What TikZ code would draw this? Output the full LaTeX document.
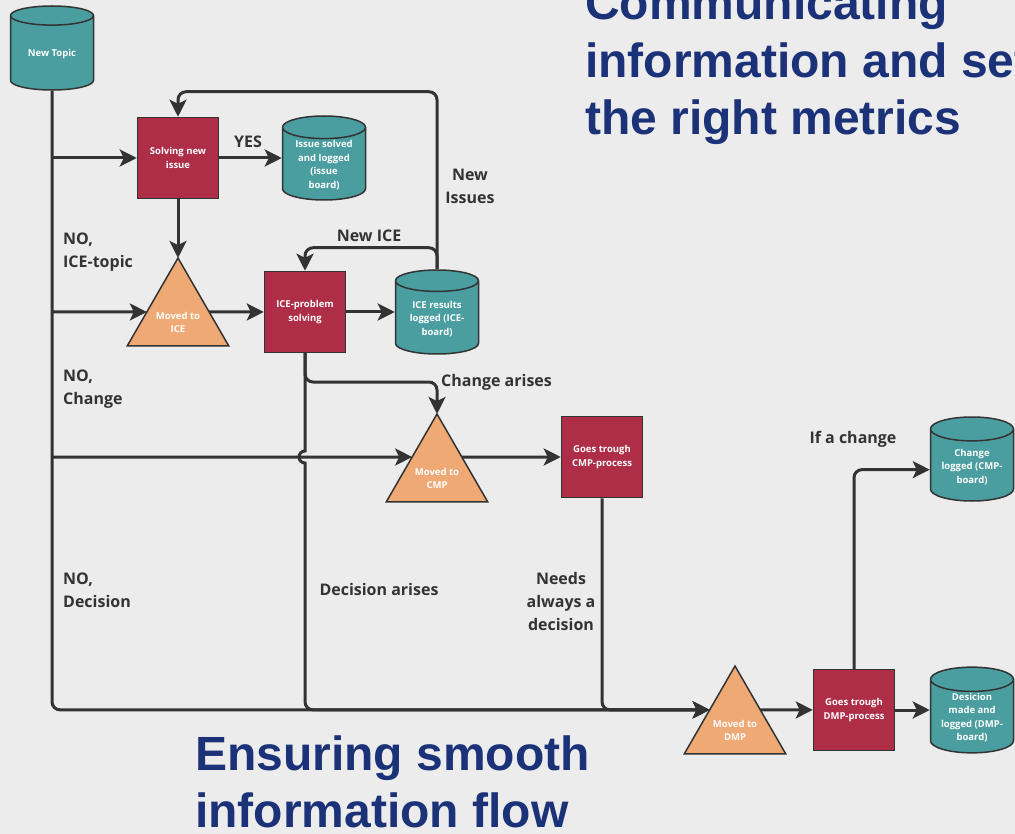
\documentclass[tikz,border=0pt]{standalone}
\usepackage{fontspec}
\setmainfont{Open Sans}
\newfontfamily\titlefont{Liberation Sans}
\usetikzlibrary{arrows.meta,calc,shapes.geometric}
\definecolor{bgc}{HTML}{ECECEC}
\definecolor{teal1}{HTML}{4A9EA0}
\definecolor{red1}{HTML}{AE2E48}
\definecolor{org1}{HTML}{EFA974}
\definecolor{ink}{HTML}{333333}
\definecolor{navy}{HTML}{1C3278}
\tikzset{
  box/.style={draw=ink,line width=1.5pt,fill=red1,minimum size=81pt,inner sep=2pt,text=white,align=center,font=\fontsize{9.5}{13.5}\selectfont\bfseries},
  cyl/.style={cylinder,shape border rotate=90,aspect=0.38,draw=ink,line width=1.5pt,fill=teal1,minimum width=83pt,minimum height=84pt,inner sep=1pt,anchor=shape center,text=white,align=center,font=\fontsize{9.5}{13.5}\selectfont\bfseries},
  tritxt/.style={text=white,align=center,inner sep=0pt,yshift=-6pt,font=\fontsize{9.5}{13.5}\selectfont\bfseries},
  tri/.style={regular polygon,regular polygon sides=3,draw=ink,line width=1.5pt,fill=org1,minimum size=117pt,inner sep=0pt,outer sep=0pt,anchor=north,label={[tritxt]center:{#1}}},
  arr/.style={-{Stealth[length=17pt,width=17pt,inset=4pt]},line width=3pt,draw=ink,rounded corners=8pt},
  lbl/.style={text=ink,align=left,inner sep=0pt,font=\fontsize{16}{23}\selectfont\bfseries},
  ttl/.style={text=navy,align=left,inner sep=0pt,anchor=west,font=\titlefont\fontsize{48}{57.5}\selectfont\bfseries},
}

\begin{document}
\begin{tikzpicture}[x=1pt,y=-1pt]
 \fill[bgc] (0,0) rectangle (1015,834);
 \useasboundingbox (0,0) rectangle (1015,834);
 % shapes
 \node[cyl] (topic) at (52,48) {New Topic};
 \node[box] (solve) at (178,158) {Solving new\\issue};
 \node[cyl] (issue) at (324,158) {Issue solved\\and logged\\(issue\\board)};
 \node[tri={Moved to\\ICE}] (icetri) at (178,258) {};
 \node[box] (icep) at (305,312) {ICE-problem\\solving};
 \node[cyl] (icelog) at (437,312) {ICE results\\logged (ICE-\\board)};
 \node[tri={Moved to\\CMP}] (cmptri) at (437,414) {};
 \node[box] (cmpbox) at (602,457) {Goes trough\\CMP-process};
 \node[tri={Moved to\\DMP}] (dmptri) at (735,666) {};
 \node[box] (dmpbox) at (854,710) {Goes trough\\DMP-process};
 \node[cyl] (dmplog) at (972,710) {Desicion\\made and\\logged (DMP-\\board)};
 \node[cyl] (chglog) at (972,459) {Change\\logged (CMP-\\board)};
 % junctions on the trunk
 \coordinate (j1) at (52,158); \coordinate (j2) at (52,312); \coordinate (j3) at (52,457);
 \coordinate (dmpin) at ($(dmptri.north)!0.5!(dmptri.corner 2)$);
 % connectors
 \draw[arr] (topic.south) |- (dmpin);
 \draw[arr] (j1) -- (solve);
 \draw[arr] (solve) -- (solve -| issue.west);
 \draw[arr] (solve.south) -- (icetri.north);
 \draw[arr] (j2) -- ($(icetri.north)!0.615!(icetri.corner 2)$);
 \draw[arr] ($(icetri.north)!0.615!(icetri.corner 3)$) -- (icep);
 \draw[arr] (icep) -- (icep -| icelog.west);
 \draw[arr] (icelog.north) |- ([yshift=23pt]icep.north) -- (icep.north);
 \draw[arr] (icelog.north) |- ([yshift=25pt]solve.north) -- (solve.north);
 \draw[arr] (icep.south) |- ([yshift=32pt]cmptri.north) -- (cmptri.north);
 \draw[arr] (icep.south) [sharp corners] -- ($(icep.south |- j3)+(0,-6)$) arc[start angle=90,end angle=270,radius=6pt] [rounded corners=8pt] |- (dmpin);
 \draw[arr] (j3) -- ($(cmptri.north)!0.49!(cmptri.corner 2)$);
 \draw[arr] ($(cmptri.north)!0.49!(cmptri.corner 3)$) -- (cmpbox);
 \draw[arr] (cmpbox.south) |- (dmpin);
 \draw[arr] ($(dmptri.north)!0.5!(dmptri.corner 3)$) -- (dmpbox);
 \draw[arr] (dmpbox) -- (dmpbox -| dmplog.west);
 \draw[arr] (dmpbox.north) |- ([yshift=-3pt]chglog.west);
 % labels
 \node[lbl] (yes) at (248,142) {YES};
 \node[lbl,anchor=west] (noice) at (63,252) {NO,\\ICE-topic};
 \node[lbl] (newice) at (369,236) {New ICE};
 \node[lbl,align=center] (newiss) at (470,186) {New\\Issues};
 \node[lbl,anchor=west] (nochg) at (63,389) {NO,\\Change};
 \node[lbl,anchor=west] (chgar) at (441,382) {Change arises};
 \node[lbl,anchor=west] (nodec) at (63,590) {NO,\\Decision};
 \node[lbl] (decar) at (379,589) {Decision arises};
 \node[lbl,align=center] (needs) at (561,601) {Needs\\always a\\decision};
 \node[lbl] (ifchg) at (853,439) {If a change};
 % titles
 \node[ttl] (ttop) at (585,65) {Communicating\\information and setting\\the right metrics};
 \node[ttl] (tbot) at (195,782) {Ensuring smooth\\information flow};
\end{tikzpicture}
\end{document}
